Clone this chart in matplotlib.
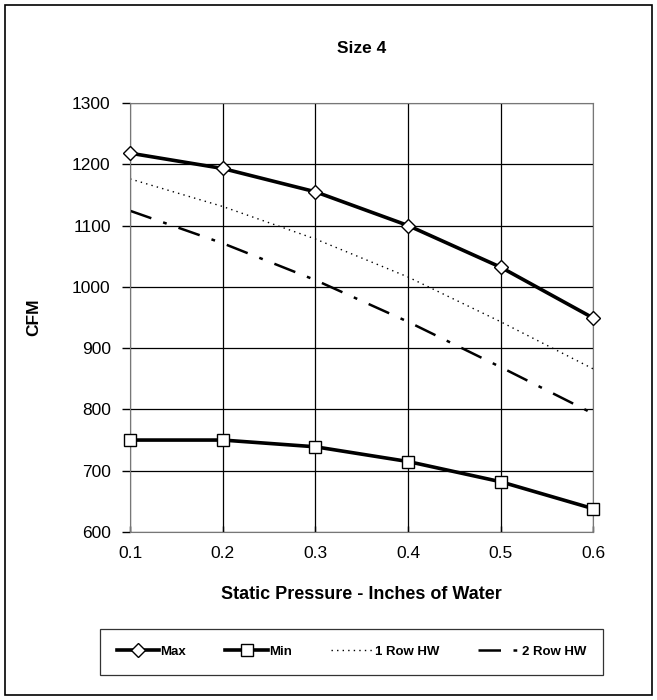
import matplotlib.pyplot as plt
from matplotlib.patches import Rectangle

plt.rcParams['font.family'] = ['Liberation Sans', 'DejaVu Sans']

# donnees
pression = [0.1, 0.2, 0.3, 0.4, 0.5, 0.6]
cfm_max = [1218, 1193, 1155, 1100, 1032, 949]
cfm_min = [750, 750, 739, 715, 682, 638]
cfm_1row = [1176, 1131, 1078, 1016, 943, 866]
cfm_2row = [1124, 1071, 1011, 943, 869, 793]

fig = plt.figure(figsize=(6.57, 7.0), dpi=100)
ax = fig.add_axes([0.198, 0.24, 0.705, 0.613])

ax.plot(pression, cfm_max, color='black', lw=2.6, marker='D', ms=7,
        mfc='white', mec='black', mew=1, label='Max', clip_on=False, zorder=5)
ax.plot(pression, cfm_min, color='black', lw=2.6, marker='s', ms=8,
        mfc='white', mec='black', mew=1, label='Min', clip_on=False, zorder=5)
ax.plot(pression, cfm_1row, color='black', lw=1, linestyle=(0, (1, 3)),
        label='1 Row HW')
ax.plot(pression, cfm_2row, color='black', lw=1.8,
        linestyle=(0, (9, 5, 1.5, 5)), label='2 Row HW')

ax.set_xlim(0.1, 0.6)
ax.set_ylim(600, 1300)
ax.set_xticks(pression)
ax.set_xticklabels(['0.1', '0.2', '0.3', '0.4', '0.5', '0.6'])
ax.set_yticks(range(600, 1301, 100))
ax.tick_params(labelsize=12.5, length=6, width=1, direction='out', pad=8)
ax.tick_params(axis='x', direction='in', length=4, pad=10)
ax.grid(True, color='black', lw=0.9)
for s in ax.spines.values():
    s.set_color('#777777')

ax.set_title('Size 4', fontsize=12.5, fontweight='bold', pad=36)
ax.set_ylabel('CFM', fontsize=12.5, fontweight='bold', labelpad=22)
ax.set_xlabel('Static Pressure - Inches of Water', fontsize=13,
              fontweight='bold', labelpad=18)

leg = fig.legend(loc='center', bbox_to_anchor=(0.152, 0.033, 0.766, 0.0714),
                 mode='expand', ncol=4, frameon=True, fancybox=False,
                 edgecolor='black', prop={'weight': 'bold', 'size': 9.5},
                 handlelength=3.2, borderpad=1.3, handletextpad=0.1,
                 borderaxespad=0)
leg.get_frame().set_linewidth(0.9)

# cadre exterieur
fig.patches.append(Rectangle((0.008, 0.007), 0.984, 0.986, transform=fig.transFigure,
                             fill=False, edgecolor='black', lw=1.2))

fig.savefig('out.png', dpi=100)
